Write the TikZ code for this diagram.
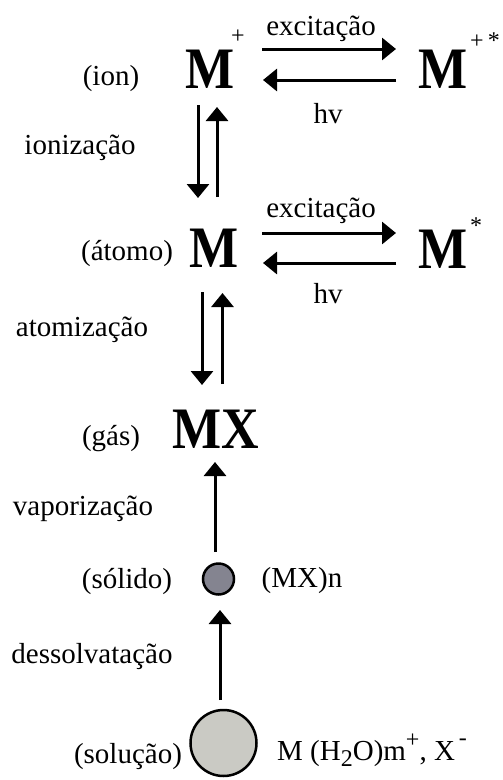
\documentclass[tikz,border=0pt]{standalone}
\usepackage{fontspec}
\setmainfont{Liberation Serif}
\usetikzlibrary{arrows.meta}
\newcommand\bigMtext[1]{\scalebox{1}[1.13]{\fontsize{52}{56}\selectfont\bfseries #1}}
\newcommand\smallsc[1]{{\fontsize{24}{26}\selectfont #1}}
\definecolor{solidfill}{RGB}{132,132,144}
\definecolor{solfill}{RGB}{202,202,196}
\tikzset{
  lbl/.style={anchor=base,inner sep=0pt,font=\fontsize{29}{32}\selectfont},
  sup/.style={anchor=center,inner sep=0pt,font=\fontsize{24}{26}\selectfont},
  species/.style={anchor=base,inner sep=0pt},
  arr/.style={line width=3pt,-{Triangle[length=14pt,width=22pt]}},
  drop/.style={draw=black,line width=2.5pt,circle,inner sep=0pt}
}
\begin{document}
\begin{tikzpicture}[x=1pt,y=-1pt]
\useasboundingbox (0,0) rectangle (503,780);
% species
\node[species] (Mion)  at (210.5,88) {\bigMtext{M}};
\node[species] (Mionx) at (443,88)   {\bigMtext{M}};
\node[species] (Mat)   at (214,267)  {\bigMtext{M}};
\node[species] (Matx)  at (443,268)  {\bigMtext{M}};
\node[species] (MX)    at (216,448)  {\bigMtext{MX}};
\node[sup] (supion)  at (238,37)  {+};
\node[sup] (supionx) at (485,41)  {+\,*};
\node[sup] (supatx)  at (476,226) {*};
% droplets
\node[drop,fill=solidfill,minimum size=31pt] (solid) at (218.5,579) {};
\node[drop,fill=solfill,minimum size=66pt] (sol) at (223.5,743) {};
% labels
\node[lbl] (lion)   at (111,85)  {(ion)};
\node[lbl] (lexc1)  at (321,35)  {excitação};
\node[lbl] (lhv1)   at (328,123) {hv};
\node[lbl] (lioniz) at (80,154)  {ionização};
\node[lbl] (latomo) at (127,260) {(átomo)};
\node[lbl] (lexc2)  at (321,217) {excitação};
\node[lbl] (lhv2)   at (328,303) {hv};
\node[lbl] (latomz) at (82,336)  {atomização};
\node[lbl] (lgas)   at (111,445) {(gás)};
\node[lbl] (lvap)   at (83,515)  {vaporização};
\node[lbl] (lsolid) at (127,588) {(sólido)};
\node[lbl] (lmxn)   at (302,587) {(MX)n};
\node[lbl] (ldes)   at (92,663)  {dessolvatação};
\node[lbl] (lsol)   at (128,763) {(solução)};
\node[lbl,anchor=base west] (lsolsp) at (277,760)
  {M (H\raisebox{-6pt}{\smallsc{2}}O)m\raisebox{13pt}{\smallsc{+}}, X\kern4pt\raisebox{15pt}{\smallsc{-}}};
% arrow end points
\coordinate (e1s) at (262,49);  \coordinate (e1e) at (396,49);
\coordinate (h1s) at (396,80);  \coordinate (h1e) at (263,80);
\coordinate (e2s) at (262,233); \coordinate (e2e) at (396,233);
\coordinate (h2s) at (396,263); \coordinate (h2e) at (263,263);
\coordinate (i1s) at (198,105); \coordinate (i1e) at (198,198);
\coordinate (i2s) at (217,197); \coordinate (i2e) at (217,107);
\coordinate (a1s) at (202,292); \coordinate (a1e) at (202,385);
\coordinate (a2s) at (222.5,384); \coordinate (a2e) at (222.5,293);
\coordinate (vs) at (215,552); \coordinate (ve) at (215,462);
\coordinate (ds) at (220,700); \coordinate (de) at (220,610);
% arrows
\draw[arr] (e1s) -- (e1e);
\draw[arr] (h1s) -- (h1e);
\draw[arr] (e2s) -- (e2e);
\draw[arr] (h2s) -- (h2e);
\draw[arr] (i1s) -- (i1e);
\draw[arr] (i2s) -- (i2e);
\draw[arr] (a1s) -- (a1e);
\draw[arr] (a2s) -- (a2e);
\draw[arr] (vs) -- (ve);
\draw[arr] (ds) -- (de);
\end{tikzpicture}
\end{document}
